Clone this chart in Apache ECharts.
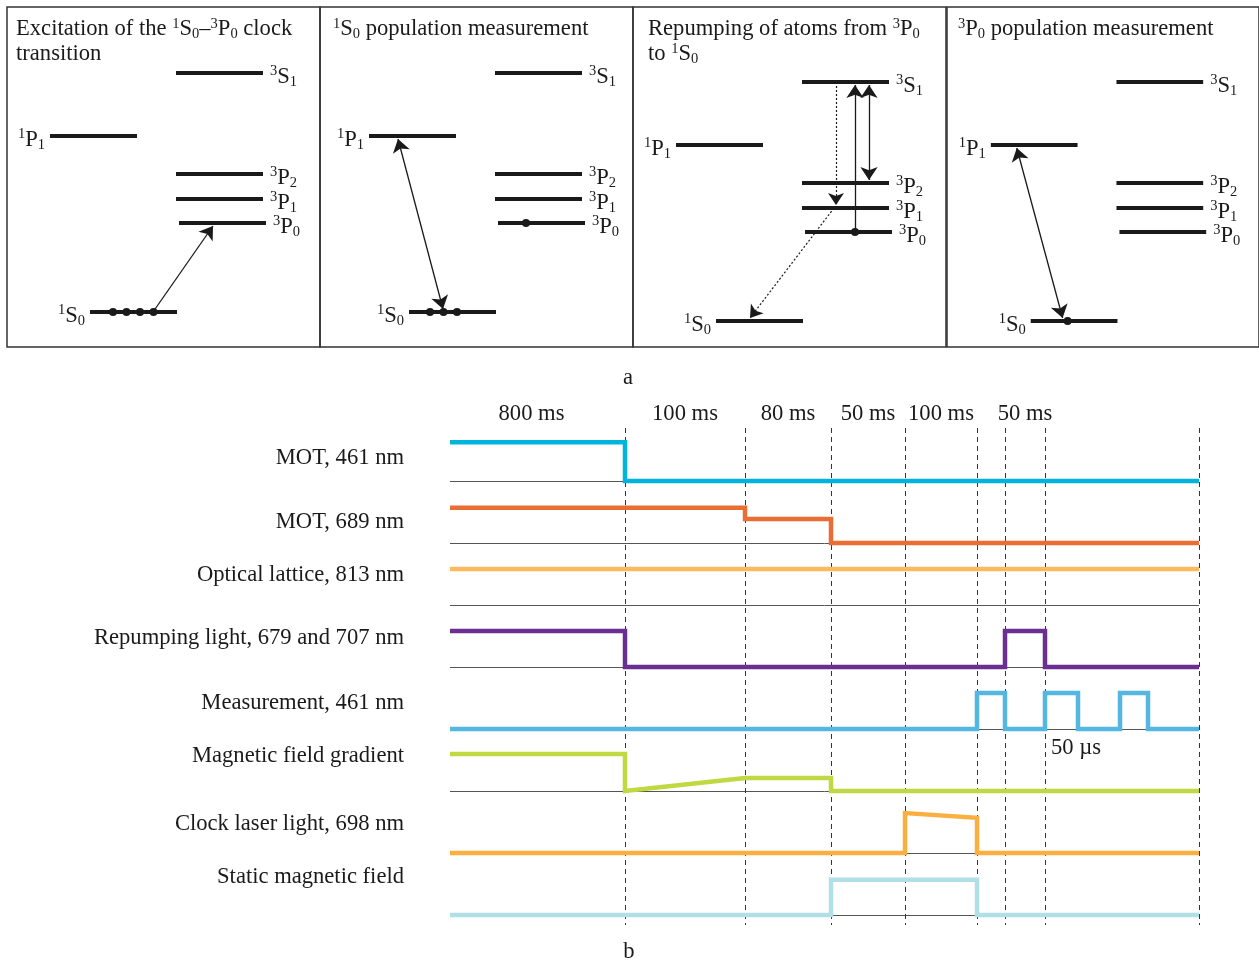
<!DOCTYPE html>
<html lang="en">
<head>
<meta charset="UTF-8">
<title>Sr lattice clock: levels and timing</title>
<style>
  html, body { margin: 0; padding: 0; background: #fff; }
  #chart { width: 1259px; height: 961px; }
</style>
</head>
<body>
<div id="chart"></div>
<script src="https://cdn.jsdelivr.net/npm/echarts@6/dist/echarts.min.js"></script>
<script>
const FONT = "'Liberation Serif', 'Times New Roman', serif";
const FS = 22.6;
const INK = '#1a1a1a';

// ---------- part a: energy levels (arbitrary units, 1S0 = 0) ----------
const levelNames = ['1S0', '3P0', '3P1', '3P2', '1P1', '3S1'];
const levelEnergy = [0, 89, 113, 138, 176, 239];
const levelTags = ['{sup|1}S{sub|0}', '{sup|3}P{sub|0}', '{sup|3}P{sub|1}', '{sup|3}P{sub|2}', '{sup|1}P{sub|1}', '{sup|3}S{sub|1}'];

const panelTitles = [
  'Excitation of the {sup|1}S{sub|0}–{sup|3}P{sub|0} clock\ntransition',
  '{sup|1}S{sub|0} population measurement',
  'Repumping of atoms from {sup|3}P{sub|0}\nto {sup|1}S{sub|0}',
  '{sup|3}P{sub|0} population measurement'
];
// atoms sitting on a level: [level, count]
const panelAtoms = [
  [['1S0', 4]],
  [['1S0', 3], ['3P0', 1]],
  [['3P0', 1]],
  [['1S0', 1]]
];
// transitions: [from, to, kind]
const panelArrows = [
  [['1S0', '3P0', 'pump']],
  [['1S0', '1P1', 'both']],
  [['3P0', '3S1', 'pump'], ['3P2', '3S1', 'both'], ['3S1', '3P1', 'decay'], ['3P1', '1S0', 'decay']],
  [['1S0', '1P1', 'both']]
];

// ---------- part b: timing sequence (schematic time axis, not to scale) ----------
const phaseEdges = [0, 175, 295, 381, 455, 527, 555, 595, 749];
const phaseLabels = ['800 ms', '100 ms', '80 ms', '50 ms', '100 ms', '', '50 ms', ''];
const channelNames = [
  'MOT, 461 nm',
  'MOT, 689 nm',
  'Optical lattice, 813 nm',
  'Repumping light, 679 and 707 nm',
  'Measurement, 461 nm',
  'Magnetic field gradient',
  'Clock laser light, 698 nm',
  'Static magnetic field'
];
const mot461 = [[0, 1.05], [175, 1.05], [175, 0], [749, 0]];
const mot689 = [[0, 0.95], [295, 0.95], [295, 0.65], [381, 0.65], [381, 0], [749, 0]];
const lattice = [[0, 0.97], [749, 0.97]];
const repump = [[0, 0.97], [175, 0.97], [175, 0], [555, 0], [555, 0.97], [595, 0.97], [595, 0], [749, 0]];
const measure = [[0, 0], [527, 0], [527, 0.97], [555, 0.97], [555, 0], [595, 0], [595, 0.97], [628, 0.97], [628, 0],
  [670, 0], [670, 0.97], [698, 0.97], [698, 0], [749, 0]];
const gradient = [[0, 1], [175, 1], [175, 0], [295, 0.35], [381, 0.35], [381, 0], [749, 0]];
const clock = [[0, 0], [455, 0], [455, 1.08], [527, 0.95], [527, 0], [749, 0]];
const staticField = [[0, 0], [381, 0], [381, 0.95], [527, 0.95], [527, 0], [749, 0]];
const channels = [mot461, mot689, lattice, repump, measure, gradient, clock, staticField];
const pulseNote = '50 µs';

// ---------- layout ----------
const PANEL_LEFT = [7, 320, 633, 947];
const PANEL_SHIFT = [[0, 0], [6, 0], [0, 9], [1, 9]];
const TITLE_X = [16, 333, 648, 958];
const LEVEL_SPAN = { '1S0': [83, 170], '3P0': [172, 259], '3P1': [169, 256], '3P2': [169, 256], '1P1': [43, 130], '3S1': [169, 256] };
const LEFT_LABEL = { '1S0': true, '1P1': true };
const ATOM_X = [[[106, 13.5]], [[104, 13.5], [200, 0]], [[222, 0]], [[120, 0]]];
const ARROW_X = [[[146, 206]], [[117, 72]], [[222, 222], [236, 236], [203, 203], [201, 117]], [[115, 69]]];
const CH_COLORS = ['#00b4dc', '#ea6d34', '#fdb95e', '#6b2e93', '#54b7e2', '#c0d841', '#fbaf41', '#b0dfe5'];
const LABEL_RISE = [23, 21, 30, 29, 26, 35, 29, 38];
const PX = 37;               // px per signal level
const ROW = 62 / PX;         // row spacing in level units
const Y_MAX = 2.2, Y_MIN = -12.2;
const yPx = y => 481 - y * PX;
const yVal = px => (481 - px) / PX;

const rich = {
  sup: { fontSize: 14.5, lineHeight: 19, verticalAlign: 'top', fontFamily: FONT, color: INK },
  sub: { fontSize: 14.5, lineHeight: 14, verticalAlign: 'bottom', fontFamily: FONT, color: INK }
};
const energyOf = n => levelEnergy[levelNames.indexOf(n)];

let grid = [], xAxis = [], yAxis = [], series = [], graphic = [];

PANEL_LEFT.forEach(function (left, p) {
  let dx = PANEL_SHIFT[p][0], dy = PANEL_SHIFT[p][1];
  grid.push({ left: left, top: 7, width: 313, height: 340, show: true, borderColor: '#333', borderWidth: 1.5 });
  xAxis.push({ gridIndex: p, type: 'value', min: -dx, max: 313 - dx, show: false });
  yAxis.push({ gridIndex: p, type: 'value', min: -35 + dy, max: 305 + dy, show: false });

  series.push({
    type: 'lines', coordinateSystem: 'cartesian2d', xAxisIndex: p, yAxisIndex: p, z: 3,
    lineStyle: { color: INK, width: 4, opacity: 1 }, symbol: 'none',
    data: levelNames.map((n, i) => ({ coords: [[LEVEL_SPAN[n][0], levelEnergy[i]], [LEVEL_SPAN[n][1], levelEnergy[i]]] }))
  });
  series.push({
    type: 'scatter', xAxisIndex: p, yAxisIndex: p, symbolSize: 0, silent: true,
    itemStyle: { opacity: 1 },
    label: {
      show: true, fontFamily: FONT, fontSize: FS, lineHeight: 26, color: INK, rich: rich, offset: [0, 4],
      formatter: d => levelTags[d.dataIndex]
    },
    data: levelNames.map((n, i) => LEFT_LABEL[n]
      ? { value: [LEVEL_SPAN[n][0], levelEnergy[i]], label: { position: 'left', distance: 5 } }
      : { value: [LEVEL_SPAN[n][1], levelEnergy[i]], label: { position: 'right', distance: 7 } })
  });
  let atoms = [];
  panelAtoms[p].forEach(function (a, k) {
    for (let j = 0; j < a[1]; j++) atoms.push([ATOM_X[p][k][0] + j * ATOM_X[p][k][1], energyOf(a[0])]);
  });
  series.push({
    type: 'scatter', xAxisIndex: p, yAxisIndex: p, symbolSize: 8, z: 4,
    itemStyle: { color: INK, opacity: 1 }, data: atoms
  });
  let groups = { pump: [], both: [], decay: [] };
  panelArrows[p].forEach(function (a, k) {
    let e1 = energyOf(a[0]), e2 = energyOf(a[1]);
    let s = e2 > e1 ? 1 : -1;
    let in1 = a[2] === 'both' ? 3 : 0;
    groups[a[2]].push({ coords: [[ARROW_X[p][k][0], e1 + s * in1], [ARROW_X[p][k][1], e2 - s * 3]] });
  });
  series.push({
    type: 'lines', coordinateSystem: 'cartesian2d', xAxisIndex: p, yAxisIndex: p, z: 5,
    symbol: ['none', 'arrow'], symbolSize: 13, lineStyle: { color: INK, width: 1.3, opacity: 1 }, data: groups.pump
  });
  series.push({
    type: 'lines', coordinateSystem: 'cartesian2d', xAxisIndex: p, yAxisIndex: p, z: 5,
    symbol: ['arrow', 'arrow'], symbolSize: 13, lineStyle: { color: INK, width: 1.3, opacity: 1 }, data: groups.both
  });
  series.push({
    type: 'lines', coordinateSystem: 'cartesian2d', xAxisIndex: p, yAxisIndex: p, z: 5,
    symbol: ['none', 'arrow'], symbolSize: 12, lineStyle: { color: INK, width: 1.2, opacity: 1, type: [2, 2] }, data: groups.decay
  });
  graphic.push({
    type: 'text', x: TITLE_X[p], y: 17,
    style: { text: panelTitles[p], fontFamily: FONT, fontSize: FS, lineHeight: 25, fill: INK, rich: rich }
  });
});

// timing grid
const T = 4;
grid.push({ left: 450, width: 749, top: yPx(Y_MAX), height: (Y_MAX - Y_MIN) * PX });
xAxis.push({ gridIndex: T, type: 'value', min: 0, max: 749, show: false });
yAxis.push({ gridIndex: T, type: 'value', min: Y_MIN, max: Y_MAX, show: false });

series.push({
  type: 'lines', coordinateSystem: 'cartesian2d', xAxisIndex: T, yAxisIndex: T, z: 1, symbol: 'none',
  lineStyle: { color: '#555', width: 1, opacity: 1 },
  data: channels.map((c, r) => ({ coords: [[0, -r * ROW], [749, -r * ROW]] }))
});
series.push({
  type: 'lines', coordinateSystem: 'cartesian2d', xAxisIndex: T, yAxisIndex: T, z: 1, symbol: 'none',
  lineStyle: { color: '#333', width: 1, opacity: 1, type: [5, 4] },
  data: phaseEdges.slice(1).map(e => ({ coords: [[e, yVal(428)], [e, yVal(925)]] }))
});
channels.forEach(function (c, r) {
  series.push({
    type: 'line', name: channelNames[r], xAxisIndex: T, yAxisIndex: T, z: 3,
    symbol: 'none', clip: false,
    lineStyle: { color: CH_COLORS[r], width: 4.5, join: 'miter', cap: 'butt' },
    data: c.map(pt => [pt[0], pt[1] - r * ROW])
  });
});
series.push({
  type: 'scatter', xAxisIndex: T, yAxisIndex: T, symbolSize: 0, silent: true, itemStyle: { opacity: 1 },
  label: { show: true, position: 'left', distance: 46, fontFamily: FONT, fontSize: FS, color: INK, formatter: d => channelNames[d.dataIndex] },
  data: channelNames.map((n, r) => [0, -r * ROW + LABEL_RISE[r] / PX])
});
series.push({
  type: 'scatter', xAxisIndex: T, yAxisIndex: T, symbolSize: 0, silent: true, itemStyle: { opacity: 1 },
  label: { show: true, position: 'inside', fontFamily: FONT, fontSize: FS, color: INK, formatter: d => phaseLabels[d.dataIndex] },
  data: phaseLabels.map((l, i) => [(phaseEdges[i] + phaseEdges[i + 1]) / 2 - (i === 0 ? 6 : 0), yVal(414)])
});
series.push({
  type: 'scatter', xAxisIndex: T, yAxisIndex: T, symbolSize: 0, silent: true, itemStyle: { opacity: 1 },
  label: { show: true, position: 'inside', align: 'left', offset: [6, 19], fontFamily: FONT, fontSize: FS, color: INK, formatter: pulseNote },
  data: [[phaseEdges[7], -4 * ROW]]
});

graphic.push({ type: 'text', x: 628, y: 378, style: { text: 'a', fontFamily: FONT, fontSize: FS, fill: INK, align: 'center', verticalAlign: 'middle' } });
graphic.push({ type: 'text', x: 629, y: 952, style: { text: 'b', fontFamily: FONT, fontSize: FS, fill: INK, align: 'center', verticalAlign: 'middle' } });

let myChart = echarts.init(document.getElementById('chart'));
myChart.setOption({
  animation: false,
  backgroundColor: '#fff',
  grid: grid,
  xAxis: xAxis,
  yAxis: yAxis,
  graphic: graphic,
  series: series
});
</script>
</body>
</html>
